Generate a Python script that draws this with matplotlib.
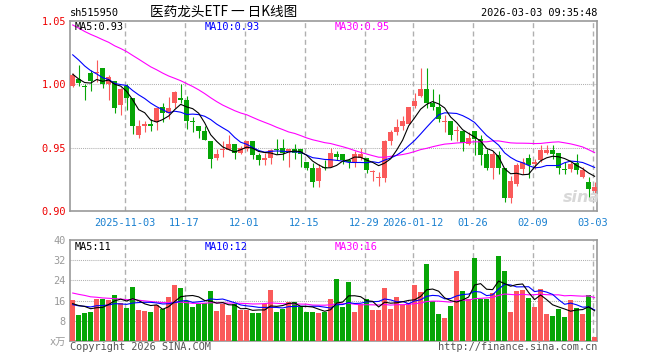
import numpy as np
import pandas as pd
import matplotlib
matplotlib.use('Agg')
import matplotlib.pyplot as plt

plt.rcParams['font.family'] = ['DejaVu Sans Mono', 'Noto Sans CJK SC']
plt.rcParams['lines.scale_dashes'] = False

# ── Data ──────────────────────────────────────────────────────────────────────
opens = [0.999, 1.004, 0.999, 1.009, 1.009, 1.013, 1.000, 1.003, 0.984, 0.999,
         0.989, 0.960, 0.967, 0.969, 0.970, 0.982, 0.977, 0.985, 0.989, 0.988,
         0.971, 0.967, 0.963, 0.955, 0.942, 0.948, 0.948, 0.953, 0.946, 0.949,
         0.955, 0.944, 0.940, 0.942, 0.949, 0.950, 0.947, 0.949, 0.949, 0.939,
         0.934, 0.924, 0.935, 0.935, 0.945, 0.945, 0.940, 0.938, 0.942, 0.942,
         0.931, 0.926, 0.926, 0.955, 0.962, 0.967, 0.969, 0.983, 0.991, 0.996,
         0.985, 0.982, 0.970, 0.971, 0.963, 0.963, 0.953, 0.963, 0.957, 0.945,
         0.934, 0.944, 0.934, 0.910, 0.921, 0.933, 0.942, 0.937, 0.940, 0.946,
         0.948, 0.946, 0.933, 0.933, 0.938, 0.927, 0.923, 0.916]
highs = [1.009, 1.015, 1.000, 1.011, 1.019, 1.013, 1.007, 1.003, 0.997, 1.000,
         0.989, 0.972, 0.971, 0.973, 0.981, 0.985, 0.990, 0.995, 1.000, 0.991,
         0.974, 0.967, 0.967, 0.955, 0.949, 0.955, 0.960, 0.953, 0.951, 0.955,
         0.955, 0.946, 0.946, 0.949, 0.957, 0.957, 0.949, 0.953, 0.949, 0.939,
         0.938, 0.937, 0.940, 0.950, 0.947, 0.945, 0.941, 0.947, 0.950, 0.942,
         0.932, 0.931, 0.956, 0.964, 0.973, 0.975, 0.982, 0.993, 1.013, 1.013,
         0.996, 0.992, 0.976, 0.971, 0.967, 0.963, 0.962, 0.963, 0.960, 0.949,
         0.947, 0.947, 0.934, 0.928, 0.938, 0.942, 0.945, 0.941, 0.952, 0.952,
         0.952, 0.946, 0.939, 0.939, 0.945, 0.935, 0.927, 0.923]
lows = [0.998, 0.999, 0.988, 0.995, 1.002, 0.997, 0.988, 0.977, 0.976, 0.980,
        0.961, 0.958, 0.962, 0.963, 0.964, 0.970, 0.973, 0.981, 0.985, 0.965,
        0.962, 0.958, 0.956, 0.934, 0.940, 0.943, 0.948, 0.941, 0.945, 0.947,
        0.941, 0.936, 0.936, 0.937, 0.945, 0.940, 0.935, 0.941, 0.935, 0.932,
        0.919, 0.919, 0.932, 0.935, 0.940, 0.937, 0.934, 0.935, 0.940, 0.930,
        0.924, 0.920, 0.923, 0.952, 0.960, 0.964, 0.969, 0.981, 0.990, 0.981,
        0.980, 0.970, 0.962, 0.956, 0.955, 0.947, 0.952, 0.944, 0.936, 0.932,
        0.925, 0.929, 0.907, 0.906, 0.920, 0.929, 0.926, 0.933, 0.939, 0.945,
        0.941, 0.929, 0.929, 0.931, 0.929, 0.926, 0.909, 0.912]
closes = [1.007, 1.001, 0.998, 1.003, 1.010, 1.000, 1.006, 0.981, 0.996, 0.989,
          0.967, 0.967, 0.969, 0.967, 0.981, 0.977, 0.981, 0.994, 0.988, 0.971,
          0.970, 0.963, 0.956, 0.941, 0.945, 0.948, 0.953, 0.946, 0.950, 0.955,
          0.944, 0.940, 0.942, 0.948, 0.948, 0.946, 0.949, 0.946, 0.945, 0.934,
          0.923, 0.934, 0.934, 0.946, 0.943, 0.940, 0.939, 0.945, 0.945, 0.932,
          0.931, 0.926, 0.955, 0.962, 0.966, 0.971, 0.982, 0.987, 0.996, 0.985,
          0.982, 0.973, 0.971, 0.960, 0.963, 0.954, 0.958, 0.957, 0.944, 0.934,
          0.945, 0.934, 0.910, 0.924, 0.936, 0.939, 0.936, 0.939, 0.948, 0.948,
          0.945, 0.934, 0.932, 0.937, 0.932, 0.932, 0.917, 0.919]
# closes before the window (only feed the moving averages)
prior_closes = [1.075, 1.078, 1.072, 1.070, 1.066, 1.068, 1.064, 1.060, 1.062, 1.058,
                1.055, 1.060, 1.057, 1.052, 1.055, 1.050, 1.048, 1.045, 1.040, 1.038,
                1.042, 1.045, 1.040, 1.036, 1.030, 1.020, 1.012, 1.005, 0.996]

volumes = [16.2, 10.3, 11.1, 11.5, 16.8, 16.8, 16.2, 18.2, 14.9, 13.1,
           21.4, 12.3, 11.9, 11.5, 14.4, 12.7, 17.4, 22.2, 21.0, 16.0,
           13.5, 14.7, 15.0, 19.8, 11.9, 14.7, 10.3, 14.7, 12.3, 12.3,
           11.1, 11.1, 14.7, 20.2, 11.5, 12.7, 15.4, 15.4, 13.5, 11.5,
           11.5, 11.1, 11.3, 16.6, 24.6, 13.5, 23.4, 11.5, 14.7, 16.6,
           12.3, 12.3, 21.0, 12.7, 17.4, 14.3, 15.0, 22.2, 19.4, 30.5,
           15.8, 10.7, 9.1, 13.9, 27.7, 19.8, 16.6, 32.9, 16.6, 16.6,
           19.0, 33.7, 27.7, 11.5, 19.8, 20.2, 17.0, 13.5, 20.6, 10.7,
           9.9, 12.7, 9.5, 16.2, 13.1, 10.7, 18.2, 1.6]
prior_volumes = [26, 24, 28, 22, 25, 20, 23, 19, 21, 18, 22, 20, 19, 21, 18, 20, 17, 19,
                 22, 22, 15, 13, 14, 12, 16, 14, 13, 16, 14.8]

tick_idx = [9, 19, 29, 39, 49, 57, 67, 77, 87]
tick_labels = ['2025-11-03', '11-17', '12-01', '12-15', '12-29',
               '2026-01-12', '01-26', '02-09', '03-03']

price_legend = ['MA5:0.93', 'MA10:0.93', 'MA30:0.95']
volume_legend = ['MA5:11', 'MA10:12', 'MA30:16']

# ── Moving averages ───────────────────────────────────────────────────────────
n = len(closes)
all_c = pd.Series(prior_closes + closes)
all_v = pd.Series(prior_volumes + volumes)
ma = {k: all_c.rolling(k).mean().values[-n:] for k in (5, 10, 30)}
vma = {k: all_v.rolling(k).mean().values[-n:] for k in (5, 10, 30)}

RED, GREEN = '#fa5a5a', '#06a506'
GRID = '#b0b0b0'
MA_COLORS = {5: 'black', 10: '#0000ff', 30: '#ff00ff'}
LEG_COLORS = ['black', '#0000ff', '#ff00ff']
W, H = 660, 360


def fx(px):
    return px / W


def fy(py):
    return 1 - py / H


fig = plt.figure(figsize=(6.6, 3.6), dpi=100)
ax = fig.add_axes([fx(70), fy(211), fx(527), 190 / H])
axv = fig.add_axes([fx(70), fy(341), fx(527), 101 / H])

x = np.arange(n) + 0.45
o, h, l, c = map(np.array, (opens, highs, lows, closes))
up = c >= o
cols = np.where(up, RED, GREEN)

# ── Price panel ───────────────────────────────────────────────────────────────
ax.vlines(x, l, h, colors=cols, linewidth=0.8, zorder=3)
body = np.maximum(np.abs(c - o), 0.0008)
ax.bar(x, body, bottom=np.minimum(o, c), width=0.8, color=cols, linewidth=0, zorder=4)
for k in (30, 10, 5):
    ax.plot(x, ma[k], color=MA_COLORS[k], linewidth=0.8, zorder=5)

ax.set_xlim(0, 87.85)
ax.set_ylim(0.90, 1.05)
ax.set_yticks([0.90, 0.95, 1.00, 1.05])
ax.set_yticklabels(['0.90', '0.95', '1.00', '1.05'], color='#ee0000', fontsize=7.4)
for yv in (0.95, 1.00):
    ax.axhline(yv, color=GRID, linewidth=0.75, dashes=(0.75, 0.75), zorder=1)

# ── Volume panel ──────────────────────────────────────────────────────────────
axv.bar(x, volumes, width=0.8, color=cols, linewidth=0, zorder=3)
for k in (30, 10, 5):
    axv.plot(x, vma[k], color=MA_COLORS[k], linewidth=0.8, zorder=5)
axv.set_xlim(0, 87.85)
axv.set_ylim(0, 40)
axv.set_yticks([0, 8, 16, 24, 32, 40])
axv.set_yticklabels(['x万', '8', '16', '24', '32', '40'], color='#999999', fontsize=7.4)
for yv in (8, 16, 24, 32):
    axv.axhline(yv, color=GRID, linewidth=0.75, dashes=(0.75, 0.75), zorder=1)

for a in (ax, axv):
    for t in tick_idx:
        a.axvline(t + 0.1, color=GRID, linewidth=1.0, dashes=(3.6, 2.4), zorder=1)
    a.tick_params(length=0, pad=3)
    for s in a.spines.values():
        s.set_color('#999999')
        s.set_linewidth(1.2)

ax.set_xticks([t + 0.1 for t in tick_idx])
ax.set_xticklabels(tick_labels, color='#1a80d0', fontsize=7.4)
ax.tick_params(axis='x', pad=5)
axv.set_xticks([])

# ── Texts ─────────────────────────────────────────────────────────────────────
fs = 7.4
fig.text(fx(70), fy(13), 'sh515950', fontsize=fs, va='center', ha='left')
fig.text(fx(150), fy(12), '医药龙头ETF 一 日K线图', fontsize=9.8, va='center', ha='left',
         family=['Noto Sans CJK SC', 'DejaVu Sans'])
fig.text(fx(597), fy(13), '2026-03-03 09:35:48', fontsize=fs, va='center', ha='right')

for px, txt, col in zip((75, 205, 335), price_legend, LEG_COLORS):
    fig.text(fx(px), fy(27), txt, fontsize=fs, va='center', color=col)
for px, txt, col in zip((75, 205, 335), volume_legend, LEG_COLORS):
    fig.text(fx(px), fy(247), txt, fontsize=fs, va='center', color=col)

fig.text(fx(70), fy(347), 'Copyright 2026 SINA.COM', fontsize=fs, va='center', color='#555555')
fig.text(fx(597), fy(347), 'http://finance.sina.com.cn', fontsize=fs, va='center', ha='right',
         color='#555555')
fig.text(fx(563), fy(197), 'sina', fontsize=11.5, va='center', ha='left', color='#d8d8d8',
         fontstyle='italic', fontweight='bold', family='DejaVu Sans', zorder=0)

fig.savefig('out.png', dpi=100)
